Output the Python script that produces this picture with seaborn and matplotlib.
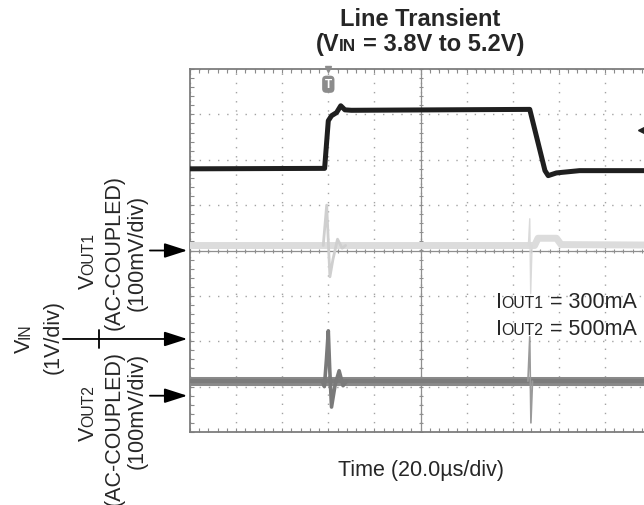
import matplotlib
matplotlib.use('Agg')
import matplotlib.pyplot as plt
from matplotlib.ticker import MultipleLocator
from matplotlib.transforms import IdentityTransform
from matplotlib.font_manager import FontProperties
import seaborn as sns
import numpy as np

# scope settings: 20us/div over 10 div, 8 div vertical
time_per_div = 20.0      # us
vin_per_div = 1.0        # V
vout_per_div = 100.0     # mV

# channel ground markers (div from centre)
vin_marker = -1.95
vout1_marker = 0.0
vout2_marker = -3.2
trig_time = 60.0         # us
trig_level = 4.6         # V

# VIN trace (V)
vin_t = [0, 58.4, 60.0, 61.4, 63.6, 65.4, 67.2, 70.0, 147.4, 154.0, 155.4, 159.0, 169.0, 200.0]
vin_v = [3.75, 3.76, 4.81, 4.92, 4.99, 5.14, 5.05, 5.04, 5.06, 3.71, 3.60, 3.66, 3.71, 3.71]

# VOUT1, AC coupled (mV)
vout1_t = [0, 149.5, 151.0, 159.0, 161.0, 200.0]
vout1_mv = [11, 11, 27, 27, 13, 12]
vout1_rise_t = [57.8, 59.3, 60.0, 60.7, 62.0, 64.0, 66.0, 67.5]
vout1_rise_mv = [11, 100, 20, -58, -20, 25, 5, 11]
vout1_fall_t = [146.8, 147.4, 147.8, 148.4]
vout1_fall_mv = [11, 70, -95, 11]

# VOUT2, AC coupled (mV)
vout2_t = [0, 200.0]
vout2_mv = [32, 32]
vout2_rise_t = [57.4, 58.3, 59.2, 60.0, 60.6, 61.4, 63.0, 64.7, 66.4, 68.0]
vout2_rise_mv = [32, 20, 80, 143, 60, -25, 25, 55, 22, 32]
vout2_fall_t = [146.6, 147.4, 147.9, 148.6]
vout2_fall_mv = [32, 130, -60, 32]

sns.set_style('white')
plt.rcParams['font.family'] = ['Liberation Sans', 'DejaVu Sans']

fig = plt.figure(figsize=(6.44, 5.06), dpi=100)
ax = fig.add_axes([190 / 644, 73 / 506, 461 / 644, 363 / 506])


def to_div(vals, marker, per_div):
    return marker + np.asarray(vals, dtype=float) / per_div


def trace(t, y, color, lw, z):
    sns.lineplot(x=t, y=y, ax=ax, color=color, lw=lw, estimator=None, sort=False, zorder=z)


trace(vout2_t, to_div(vout2_mv, vout2_marker, vout_per_div), '#8a8a8a', 6.5, 3)
trace(vout2_t, to_div(vout2_mv, vout2_marker, vout_per_div), '#7c7c7c', 3.0, 3)
trace(vout2_rise_t, to_div(vout2_rise_mv, vout2_marker, vout_per_div), '#7a7a7a', 2.6, 3.1)
trace(vout2_fall_t, to_div(vout2_fall_mv, vout2_marker, vout_per_div), '#9a9a9a', 1.2, 3.1)
trace(vout1_t, to_div(vout1_mv, vout1_marker, vout_per_div), '#dcdcdc', 5.0, 3)
trace(vout1_rise_t, to_div(vout1_rise_mv, vout1_marker, vout_per_div), '#cfcfcf', 2.0, 3.1)
trace(vout1_fall_t, to_div(vout1_fall_mv, vout1_marker, vout_per_div), '#dadada', 1.0, 3.1)
trace(vin_t, to_div(vin_v, vin_marker, vin_per_div), '#1f1f1f', 3.6, 4)

ax.set_xlim(0, 10 * time_per_div)
ax.set_ylim(-4, 4)
ax.set(xlabel='', ylabel='')

# graticule
ax.xaxis.set_major_locator(MultipleLocator(time_per_div))
ax.xaxis.set_minor_locator(MultipleLocator(time_per_div / 5))
ax.yaxis.set_major_locator(MultipleLocator(1))
ax.yaxis.set_minor_locator(MultipleLocator(0.2))
ax.tick_params(which='both', direction='in', top=True, right=True, bottom=True, left=True,
               length=3, width=0.8, color='#8a8a8a',
               labelbottom=False, labelleft=False)
ax.set_axisbelow(True)
ax.grid(True, which='major', color='#a3a3a3', lw=1.0, ls=(0, (1, 5.6)))
for s in ax.spines.values():
    s.set_color('#7d7d7d')
    s.set_linewidth(1.3)

ax.axvline(5 * time_per_div, color='#8f8f8f', lw=0.9, zorder=1.5)
ax.axhline(0, color='#8f8f8f', lw=0.9, zorder=1.5)
xt = np.arange(0, 10 * time_per_div + 0.1, time_per_div / 5)
yt = np.arange(-4, 4.01, 0.2)
ax.plot(xt, np.zeros_like(xt), ls='none', marker='|', ms=3.5, mew=0.8, color='#8f8f8f', zorder=1.5)
ax.plot(np.full_like(yt, 5 * time_per_div), yt, ls='none', marker='_', ms=3.5, mew=0.8,
        color='#8f8f8f', zorder=1.5)

# trigger markers
ax.plot(trig_time, 4, marker='v', ms=5, color='#8c8c8c', clip_on=False, zorder=5)
ax.text(trig_time, 0.958, 'T', transform=ax.get_xaxis_transform(), ha='center', va='center',
        color='white', fontsize=8.5, fontweight='bold', zorder=5,
        bbox=dict(boxstyle='round,pad=0.22,rounding_size=0.35', fc='#8c8c8c', ec='none'))
ax.plot(196.4, vin_marker + trig_level / vin_per_div, marker='<', ms=7, color='#222222',
        clip_on=False, zorder=5)

# channel arrows on the left
arrow = dict(arrowstyle='-|>,head_length=1.4,head_width=0.45', color='black', lw=1.3,
             shrinkA=0, shrinkB=0, mutation_scale=10)
for y0, x0 in [(vout1_marker, -0.087), (vin_marker, -0.2755), (vout2_marker, -0.087)]:
    ax.annotate('', xy=(-0.006, y0), xycoords=('axes fraction', 'data'),
                xytext=(x0, y0), textcoords=('axes fraction', 'data'),
                arrowprops=arrow, annotation_clip=False)
ax.plot([-0.197, -0.197], [vin_marker + 0.2, vin_marker - 0.2], color='black', lw=1.3,
        transform=ax.get_yaxis_transform(), clip_on=False)

# text with small-caps subscripts, placed by image pixel centre
renderer = fig.canvas.get_renderer()
H = fig.bbox.height


def text_len(s, size, weight):
    fp = FontProperties(family='Liberation Sans', size=size, weight=weight)
    w1 = renderer.get_text_width_height_descent('|' + s + '|', fp, ismath=False)[0]
    w0 = renderer.get_text_width_height_descent('||', fp, ismath=False)[0]
    return w1 - w0


def label(xc, yc, pieces, size=15.5, rotation=0, weight='normal'):
    items = []
    for s, k in pieces:
        body = s.lstrip(' ')
        gap = text_len(' ' * (len(s) - len(body)), size * k, weight) if body != s else 0
        items.append((body, size * k, gap, text_len(body, size * k, weight)))
    total = sum(g + w for _, _, g, w in items)
    cap = size * 0.716 * fig.dpi / 72
    pos = -total / 2
    for body, sz, gap, w in items:
        pos += gap
        if rotation == 90:
            xy = (xc + cap / 2, H - yc + pos)
        else:
            xy = (xc + pos, H - yc - cap / 2)
        fig.text(xy[0], xy[1], body, fontsize=sz, rotation=rotation, rotation_mode='anchor',
                 ha='left', va='baseline', transform=IdentityTransform(), fontweight=weight)
        pos += w


sc = 0.73
label(420, 18, [('Line Transient', 1)], size=17, weight='bold')
label(420, 43, [('(V', 1), ('IN', sc), (' = 3.8V to 5.2V)', 1)], size=17, weight='bold')
label(421, 468, [('Time (20.0µs/div)', 1)])
label(566, 300, [('I', 1), ('OUT1', sc), (' = 300mA', 1)])
label(566, 327, [('I', 1), ('OUT2', sc), (' = 500mA', 1)])

label(22, 338, [('V', 1), ('IN', sc)], rotation=90)
label(51, 337, [('(1V/div)', 1)], rotation=90)
label(86, 261, [('V', 1), ('OUT1', sc)], rotation=90)
label(112, 253, [('(AC-COUPLED)', 1)], rotation=90)
label(135, 253, [('(100mV/div)', 1)], rotation=90)
label(86, 413, [('V', 1), ('OUT2', sc)], rotation=90)
label(112, 428, [('(AC-COUPLED)', 1)], rotation=90)
label(135, 411, [('(100mV/div)', 1)], rotation=90)

fig.savefig('out.png', dpi=100)
